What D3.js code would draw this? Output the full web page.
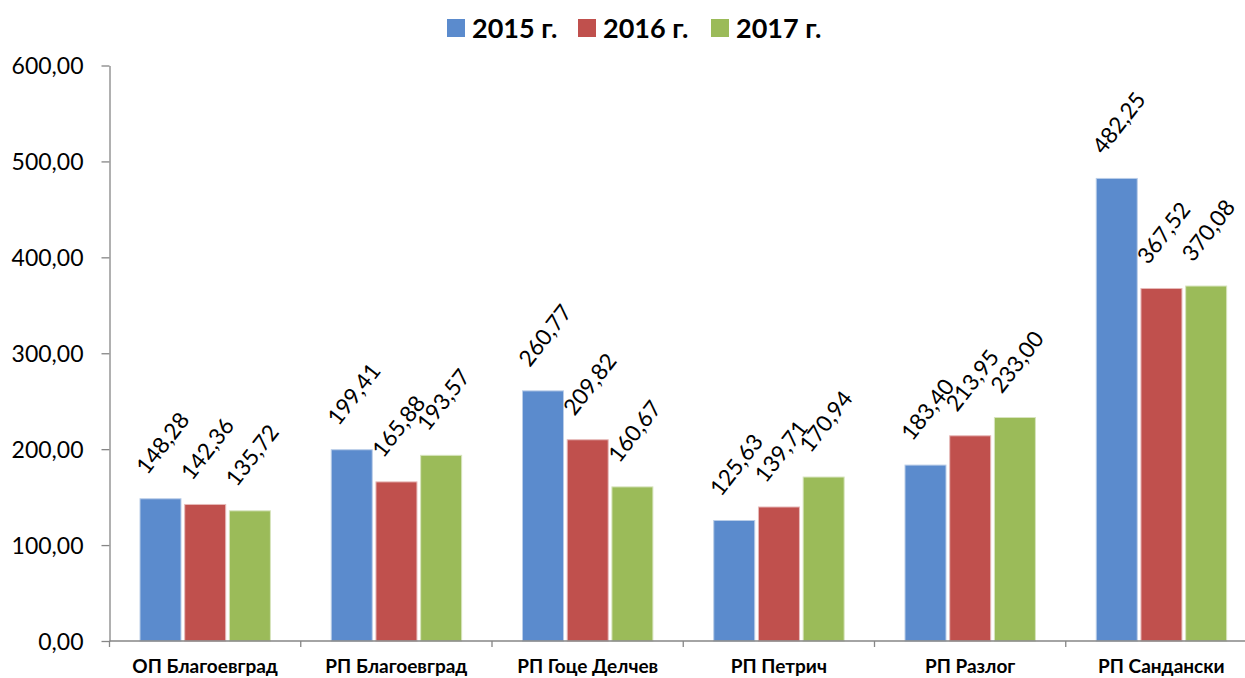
<!DOCTYPE html>
<html>
<head>
<meta charset="utf-8">
<script src="https://cdn.jsdelivr.net/npm/d3@7"></script>
<style>
  html, body { margin: 0; padding: 0; background: #fff; }
  svg { display: block; }
  text { font-family: Lato, "Open Sans", sans-serif; fill: #000; }
</style>
</head>
<body>
<svg id="chart" width="1245" height="678"></svg>
<script>
const categories = ["ОП Благоевград", "РП Благоевград", "РП Гоце Делчев", "РП Петрич", "РП Разлог", "РП Сандански"];
const seriesNames = ["2015 г.", "2016 г.", "2017 г."];
const values2015 = [148.28, 199.41, 260.77, 125.63, 183.40, 482.25];
const values2016 = [142.36, 165.88, 209.82, 139.71, 213.95, 367.52];
const values2017 = [135.72, 193.57, 160.67, 170.94, 233.00, 370.08];
const yTicks = [0, 100, 200, 300, 400, 500, 600];
const colors = ["#5B8BCD", "#C0504D", "#9BBB59"];
const strokes = ["#B9CDE8", "#E6B9B8", "#D7E4BD"];

const seriesValues = [values2015, values2016, values2017];
const data = categories.map((c, i) => ({
  cat: c,
  vals: seriesNames.map((s, j) => ({ s, j, v: seriesValues[j][i] }))
}));

const locale = d3.formatLocale({ decimal: ",", thousands: " ", grouping: [3], currency: ["", ""] });
const fmt = locale.format(".2f");

const svg = d3.select("#chart");
const axisColor = "#868686";

const x0 = d3.scaleBand().domain(categories).range([109.5, 1257]).paddingInner(0).paddingOuter(0);
const x1 = d3.scaleBand().domain(seriesNames).range([30.5, 160.9]).paddingInner(0.083).paddingOuter(0);
const y = d3.scaleLinear().domain([0, 600]).range([641, 65.5]);

// Y axis
const yAxis = svg.append("g")
  .attr("transform", "translate(109.5,0)")
  .call(d3.axisLeft(y).tickValues(yTicks).tickSize(8).tickSizeOuter(0).tickPadding(18).tickFormat(fmt));
yAxis.select(".domain").attr("stroke", axisColor).attr("stroke-width", 1.3);
yAxis.selectAll(".tick line").attr("stroke", axisColor).attr("stroke-width", 1.3);
yAxis.selectAll(".tick text").style("font-family", "Lato").style("font-size", "23px").attr("fill", "#000").attr("dy", "0.36em");

// Bars
const groups = svg.append("g").selectAll("g").data(data).join("g")
  .attr("transform", d => `translate(${x0(d.cat)},0)`);

groups.selectAll("rect").data(d => d.vals).join("rect")
  .attr("x", d => x1(d.s))
  .attr("width", x1.bandwidth())
  .attr("y", d => y(d.v))
  .attr("height", d => y(0) - y(d.v))
  .attr("fill", d => colors[d.j])
  .attr("stroke", d => strokes[d.j])
  .attr("stroke-width", 1);

// X axis line and boundary ticks
svg.append("line")
  .attr("x1", 109.5).attr("x2", 1257).attr("y1", y(0)).attr("y2", y(0))
  .attr("stroke", axisColor).attr("stroke-width", 1.3);
const bounds = categories.map(c => x0(c)).concat([x0.range()[1]]);
svg.append("g").selectAll("line").data(bounds).join("line")
  .attr("x1", d => d).attr("x2", d => d)
  .attr("y1", y(0)).attr("y2", y(0) + 6)
  .attr("stroke", axisColor).attr("stroke-width", 1.3);

// Category labels
svg.append("g").selectAll("text").data(categories).join("text")
  .attr("x", d => x0(d) + x0.bandwidth() / 2)
  .attr("y", 673)
  .attr("text-anchor", "middle")
  .style("font-size", "19px")
  .style("font-weight", "bold")
  .text(d => d);

// Data labels, rotated
const angle = 52;
const theta = angle * Math.PI / 180;
const labelFs = 22.5;
groups.selectAll("text.val").data(d => d.vals).join("text")
  .attr("class", "val")
  .style("font-size", labelFs + "px")
  .attr("text-anchor", "middle")
  .attr("dy", "0.36em")
  .text(d => fmt(d.v))
  .each(function(d) {
    const w = this.getComputedTextLength();
    const h = labelFs * 0.72;
    const H = w * Math.sin(theta) + h * Math.cos(theta);
    const cx = x1(d.s) + x1.bandwidth() / 2 + 2;
    const cy = y(d.v) - 23 - H / 2;
    d3.select(this).attr("transform", `translate(${cx},${cy}) rotate(${-angle})`);
  });

// Legend
const legendX = [447, 578, 711];
const legend = svg.append("g").selectAll("g").data(seriesNames).join("g")
  .attr("transform", (d, i) => `translate(${legendX[i]},0)`);
legend.append("rect")
  .attr("x", 0).attr("y", 19).attr("width", 18).attr("height", 18)
  .attr("fill", (d, i) => colors[i]);
legend.append("text")
  .attr("x", 25).attr("y", 37.5)
  .style("font-size", "27px")
  .style("font-weight", "bold")
  .text(d => d);
</script>
</body>
</html>
